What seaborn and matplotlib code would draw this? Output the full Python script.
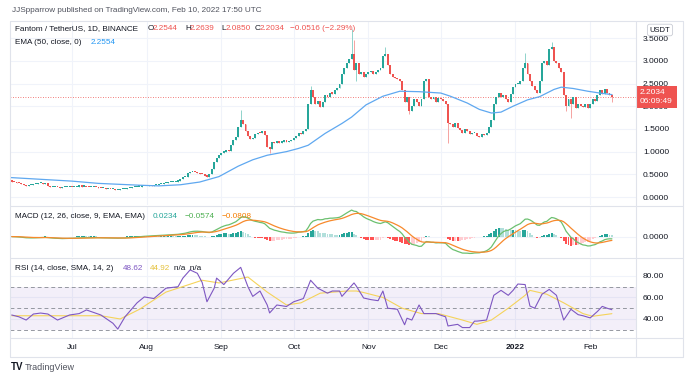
import numpy as np
import pandas as pd
import matplotlib
matplotlib.use("Agg")
import matplotlib.pyplot as plt
import matplotlib.transforms as mtrans
from matplotlib.lines import Line2D
import seaborn as sns

sns.set_theme(style="white")
plt.rcParams["font.family"] = ["Liberation Sans", "DejaVu Sans"]

# ── DATA ─────────────────────────────────────────────────────────────────────
first_day = "2021-06-06"
first_open = 0.35
close_jun = [0.34, 0.33, 0.31, 0.30, 0.28, 0.26, 0.25, 0.27, 0.27, 0.28,
             0.29, 0.30, 0.30, 0.29, 0.30, 0.24, 0.21, 0.22, 0.23, 0.21,
             0.20, 0.21, 0.22, 0.22, 0.23]
close_jul = [0.22, 0.22, 0.23, 0.24, 0.23, 0.23, 0.22, 0.21, 0.22, 0.22,
             0.21, 0.20, 0.19, 0.19, 0.18, 0.18, 0.17, 0.17, 0.16, 0.16,
             0.17, 0.17, 0.18, 0.19, 0.20, 0.21, 0.22, 0.23, 0.23, 0.24,
             0.25]
close_aug = [0.25, 0.26, 0.25, 0.27, 0.27, 0.28, 0.29, 0.30, 0.30, 0.32,
             0.33, 0.33, 0.34, 0.36, 0.40, 0.43, 0.45, 0.52, 0.55, 0.56,
             0.54, 0.53, 0.51, 0.50, 0.47, 0.45, 0.50, 0.62, 0.78, 0.86,
             0.92]
close_sep = [0.98, 1.00, 1.03, 1.02, 1.15, 1.25, 1.32, 1.55, 1.70, 1.60,
             1.45, 1.35, 1.28, 1.30, 1.38, 1.42, 1.40, 1.45, 1.36, 1.10,
             1.05, 1.22, 1.18, 1.24, 1.20, 1.22, 1.25, 1.21, 1.24, 1.26]
close_oct = [1.30, 1.35, 1.42, 1.38, 1.45, 1.50, 2.05, 2.35, 2.20, 2.05,
             2.12, 1.98, 2.10, 2.25, 2.20, 2.30, 2.28, 2.35, 2.40, 2.50,
             2.70, 2.85, 2.95, 3.05, 3.15, 2.80, 2.95, 2.70, 2.75, 2.65,
             2.72]
close_nov = [2.75, 2.78, 2.72, 2.76, 2.80, 2.85, 3.10, 3.15, 2.90, 2.72,
             2.65, 2.62, 2.60, 2.55, 2.35, 2.10, 2.20, 1.90, 2.00, 2.15,
             2.10, 2.00, 2.15, 2.55, 2.60, 2.20, 2.15, 2.20, 2.10, 2.18]
close_dec = [2.15, 2.12, 2.05, 1.62, 1.60, 1.55, 1.62, 1.52, 1.48, 1.42,
             1.50, 1.45, 1.38, 1.40, 1.42, 1.35, 1.32, 1.38, 1.36, 1.42,
             1.55, 1.70, 2.05, 2.20, 2.30, 2.20, 2.25, 2.15, 2.10, 2.28,
             2.42]
close_jan = [2.48, 2.50, 2.55, 2.85, 2.95, 2.70, 2.55, 2.45, 2.35, 2.30,
             2.55, 2.95, 3.00, 2.90, 3.25, 3.30, 3.00, 2.95, 2.85, 2.75,
             2.25, 2.00, 2.15, 2.05, 2.20, 1.95, 2.05, 2.00, 1.98, 2.05,
             1.95]
close_feb = [2.05, 2.15, 2.12, 2.25, 2.35, 2.28, 2.38, 2.30, 2.255, 2.2034]

# long wicks that stand out
wick_high = {"2021-09-09": 1.92, "2021-10-08": 2.45, "2021-10-25": 3.70,
             "2021-10-26": 3.45, "2021-11-08": 3.30, "2022-01-05": 3.17,
             "2022-01-16": 3.42, "2022-02-10": 2.2639}
wick_low = {"2021-09-21": 0.97, "2021-10-27": 2.55, "2021-11-18": 1.82,
            "2021-12-04": 1.19, "2022-01-22": 1.90, "2022-01-24": 1.75,
            "2022-02-10": 2.085}

ema_dates = ["2021-06-05", "2021-06-18", "2021-07-01", "2021-07-12", "2021-07-29",
             "2021-08-06", "2021-08-15", "2021-08-23", "2021-08-31", "2021-09-08",
             "2021-09-14", "2021-09-20", "2021-09-28", "2021-10-03", "2021-10-07",
             "2021-10-14", "2021-10-21", "2021-10-25", "2021-10-31", "2021-11-07",
             "2021-11-14", "2021-11-22", "2021-12-01", "2021-12-05", "2021-12-12",
             "2021-12-17", "2021-12-22", "2021-12-26", "2021-12-31", "2022-01-06",
             "2022-01-11", "2022-01-17", "2022-01-20", "2022-01-25", "2022-01-31",
             "2022-02-05", "2022-02-10"]
ema_vals = [0.43, 0.39, 0.35, 0.30, 0.26,
            0.245, 0.27, 0.33, 0.45, 0.68,
            0.82, 0.92, 1.00, 1.07, 1.14,
            1.40, 1.62, 1.76, 2.03, 2.22,
            2.33, 2.32, 2.29, 2.22, 2.07,
            1.93, 1.85, 1.87, 2.00, 2.14,
            2.21, 2.37, 2.42, 2.39, 2.33,
            2.29, 2.2554]

rsi_dates = ["2021-06-06", "2021-06-09", "2021-06-12", "2021-06-15", "2021-06-18",
             "2021-06-21", "2021-06-25", "2021-06-30", "2021-07-04", "2021-07-07",
             "2021-07-13", "2021-07-18", "2021-07-20", "2021-07-23", "2021-07-28",
             "2021-07-31", "2021-08-04", "2021-08-09", "2021-08-14", "2021-08-16",
             "2021-08-19", "2021-08-22", "2021-08-24", "2021-08-26", "2021-08-29",
             "2021-08-30", "2021-09-02", "2021-09-06", "2021-09-09", "2021-09-12",
             "2021-09-14", "2021-09-17", "2021-09-20", "2021-09-21", "2021-09-24",
             "2021-09-28", "2021-10-01", "2021-10-05", "2021-10-08", "2021-10-11",
             "2021-10-15", "2021-10-17", "2021-10-20", "2021-10-21", "2021-10-26",
             "2021-10-27", "2021-10-30", "2021-11-02", "2021-11-05", "2021-11-07",
             "2021-11-09", "2021-11-13", "2021-11-16", "2021-11-17", "2021-11-19",
             "2021-11-22", "2021-11-24", "2021-11-29", "2021-12-03", "2021-12-04",
             "2021-12-08", "2021-12-10", "2021-12-13", "2021-12-15", "2021-12-16",
             "2021-12-20", "2021-12-23", "2021-12-26", "2021-12-29", "2021-12-31",
             "2022-01-02", "2022-01-05", "2022-01-07", "2022-01-09", "2022-01-12",
             "2022-01-15", "2022-01-18", "2022-01-21", "2022-01-24", "2022-01-27",
             "2022-01-29", "2022-02-01", "2022-02-04", "2022-02-06", "2022-02-08",
             "2022-02-10"]
rsi_vals = [43.7, 42.0, 39.0, 44.6, 45.5,
            44.6, 39.0, 43.7, 45.0, 48.4,
            43.7, 36.0, 30.6, 42.0, 55.0,
            60.5, 59.0, 68.6, 70.0, 78.0,
            85.6, 82.5, 74.0, 56.0, 68.6,
            78.0, 72.0, 82.5, 88.0, 70.0,
            61.0, 66.0, 53.0, 45.6, 53.0,
            51.6, 56.0, 59.0, 76.0, 68.6,
            64.0, 66.0, 66.0, 61.0, 73.5,
            70.5, 59.5, 58.0, 57.0, 66.0,
            50.0, 49.0, 34.6, 40.7, 39.0,
            53.0, 45.0, 45.0, 42.0, 33.5,
            35.0, 32.0, 32.0, 38.0, 38.0,
            39.0, 62.0, 66.6, 62.0, 66.6,
            72.5, 72.0, 52.0, 50.0, 63.0,
            67.5, 62.0, 39.0, 49.0, 44.0,
            43.0, 41.0, 47.0, 51.7, 50.0,
            48.62]

rsi_ma_dates = ["2021-06-06", "2021-07-13", "2021-07-21", "2021-07-29", "2021-08-09",
                "2021-08-24", "2021-08-31", "2021-09-12", "2021-09-20", "2021-09-28",
                "2021-10-04", "2021-10-12", "2021-10-23", "2021-10-27", "2021-10-30",
                "2021-11-07", "2021-11-15", "2021-11-23", "2021-11-30", "2021-12-10",
                "2021-12-16", "2021-12-22", "2021-12-29", "2022-01-05", "2022-01-07",
                "2022-01-14", "2022-01-21", "2022-01-29", "2022-02-02", "2022-02-10"]
rsi_ma_vals = [43.0, 43.0, 40.0, 49.0, 65.0,
               76.0, 73.5, 79.0, 65.0, 53.0,
               55.0, 64.0, 66.0, 66.0, 64.6,
               60.0, 50.0, 45.0, 45.0, 39.0,
               35.0, 39.0, 50.0, 62.0, 66.6,
               63.0, 55.0, 45.0, 42.5, 44.92]

price_ticks = [0.0, 0.5, 1.0, 1.5, 2.0, 2.5, 3.0, 3.5]
rsi_ticks = [40, 60, 80]
month_starts = ["2021-07-01", "2021-08-01", "2021-09-01", "2021-10-01",
                "2021-11-01", "2021-12-01", "2022-01-01", "2022-02-01"]
month_labels = ["Jul", "Aug", "Sep", "Oct", "Nov", "Dec", "2022", "Feb"]

# ── SERIES ───────────────────────────────────────────────────────────────────
closes = np.array(close_jun + close_jul + close_aug + close_sep + close_oct
                  + close_nov + close_dec + close_jan + close_feb)
dates = pd.date_range(first_day, periods=len(closes), freq="D")
opens = np.r_[first_open, closes[:-1]]
highs = np.maximum(opens, closes)
lows = np.minimum(opens, closes)
for d, v in wick_high.items():
    highs[dates.get_loc(pd.Timestamp(d))] = v
for d, v in wick_low.items():
    lows[dates.get_loc(pd.Timestamp(d))] = v
up = closes >= opens

# MACD (12, 26, 9) from the closes
s = pd.Series(closes, index=dates)
macd = s.ewm(span=12, adjust=False).mean() - s.ewm(span=26, adjust=False).mean()
signal = macd.ewm(span=9, adjust=False).mean()
hist = macd - signal

# ── FIGURE ───────────────────────────────────────────────────────────────────
W, H = 694, 381
fig = plt.figure(figsize=(W / 100, H / 100), dpi=100)
L, R = 10, 636


def pane(top, bottom):
    ax = fig.add_axes([L / W, 1 - bottom / H, (R - L) / W, (bottom - top) / H])
    for sp in ax.spines.values():
        sp.set_visible(False)
    ax.yaxis.tick_right()
    ax.tick_params(axis="y", length=0, pad=5, labelsize=6, labelcolor="#131722")
    ax.tick_params(axis="x", length=0, labelbottom=False)
    ax.set_xticks(pd.to_datetime(month_starts))
    ax.grid(True, color="#f0f3fa", lw=0.8)
    ax.set_xlim(pd.Timestamp("2021-06-05 07:00"), pd.Timestamp("2022-02-20"))
    return ax


ax_p = pane(21, 205)
ax_m = pane(206, 257)
ax_r = pane(258, 338)

# price pane
GREEN, RED = "#26a69a", "#ef5350"
ax_p.vlines(dates, lows, highs, colors=np.where(up, "#8fd3cb", "#f5a3a1"), lw=0.7, zorder=2)
ax_p.bar(dates, np.maximum(np.abs(closes - opens), 0.025), bottom=np.minimum(opens, closes),
         width=0.8, color=np.where(up, GREEN, RED), linewidth=0, zorder=3)
sns.lineplot(x=pd.to_datetime(ema_dates), y=ema_vals, ax=ax_p, color="#5fa8f0", lw=0.9, zorder=4)
ax_p.axhline(closes[-1], color=RED, lw=0.6, ls=(0, (1, 2)), zorder=1)
ax_p.set_ylim(-0.176, 3.877)
ax_p.set_yticks(price_ticks)
ax_p.set_yticklabels([f"{v:.4f}" for v in price_ticks])
ax_p.set_xlabel(""); ax_p.set_ylabel("")
blend = mtrans.blended_transform_factory(ax_p.transAxes, ax_p.transData)
ax_p.text(1 + 4 / (R - L), closes[-1], f"{closes[-1]:.4f}\n06:09:49", transform=blend,
          ha="left", va="center", color="white", fontsize=6, linespacing=1.25, clip_on=False,
          bbox=dict(boxstyle="square,pad=0.45", fc=RED, ec="none"), zorder=10)

# MACD pane
hprev = hist.shift(1)
hcol = np.where(hist >= 0, np.where(hprev < hist, "#26a69a", "#b2dfdb"),
                np.where(hprev < hist, "#ffcdd2", "#ff5252"))
ax_m.bar(dates, hist.values, width=0.8, color=hcol, linewidth=0, zorder=2)
sns.lineplot(x=dates, y=macd.values, ax=ax_m, color="#6cc070", lw=0.9, zorder=3)
sns.lineplot(x=dates, y=signal.values, ax=ax_m, color="#f7892b", lw=0.9, zorder=3)
ax_m.set_ylim(-0.30, 0.45)
ax_m.set_yticks([0.0])
ax_m.set_yticklabels(["0.0000"])
ax_m.set_xlabel(""); ax_m.set_ylabel("")

# RSI pane
ax_r.axhspan(30, 70, color="#7e57c2", alpha=0.09, lw=0, zorder=1)
for lvl in (70, 50, 30):
    ax_r.axhline(lvl, color="#9598a1", lw=0.7, dashes=(4, 3), zorder=2)
sns.lineplot(x=pd.to_datetime(rsi_ma_dates), y=rsi_ma_vals, ax=ax_r, color="#f5d35a", lw=0.8, zorder=3)
sns.lineplot(x=pd.to_datetime(rsi_dates), y=rsi_vals, ax=ax_r, color="#7e57c2", lw=0.8, zorder=4)
ax_r.set_ylim(22.3, 96.7)
ax_r.set_yticks(rsi_ticks)
ax_r.set_yticklabels([f"{v:.2f}" for v in rsi_ticks])
ax_r.tick_params(axis="x", labelbottom=True, labelsize=6, pad=4, labelcolor="#131722")
ax_r.set_xticklabels(month_labels)
for t in ax_r.get_xticklabels():
    if t.get_text() == "2022":
        t.set_fontweight("bold")
ax_r.set_xlabel(""); ax_r.set_ylabel("")

# frame lines
def hline(y, x0=L, x1=683):
    fig.add_artist(Line2D([x0 / W, x1 / W], [1 - y / H] * 2, color="#e0e3eb", lw=0.8))


def vline(x, y0=21, y1=357):
    fig.add_artist(Line2D([x / W] * 2, [1 - y0 / H, 1 - y1 / H], color="#e0e3eb", lw=0.8))


for y in (21, 205.5, 257.5, 338, 357):
    hline(y)
for x in (L, R, 683):
    vline(x)

# texts
def ftext(x, y, s, **kw):
    kw.setdefault("fontsize", 5.9)
    kw.setdefault("color", "#131722")
    fig.text(x / W, 1 - y / H, s, va="center", ha="left", **kw)


ftext(12, 10, "JJSpparrow published on TradingView.com, Feb 10, 2022 17:50 UTC", color="#50535e")
ftext(15, 29, "Fantom / TetherUS, 1D, BINANCE")
for x, lab, val in [(148, "O", "2.2544"), (185, "H", "2.2639"), (221, "L", "2.0850"), (255, "C", "2.2034")]:
    ftext(x, 29, lab)
    ftext(x + 5, 29, val, color=RED)
ftext(290, 29, "\u22120.0516 (\u22122.29%)", color=RED)
ftext(15, 43, "EMA (50, close, 0)")
ftext(91, 43, "2.2554", color="#2196f3")
ftext(15, 217, "MACD (12, 26, close, 9, EMA, EMA)")
ftext(153, 217, "0.0234", color="#26a69a")
ftext(185, 217, "\u22120.0574", color="#4caf50")
ftext(222, 217, "\u22120.0808", color="#f57c00")
ftext(15, 268, "RSI (14, close, SMA, 14, 2)")
ftext(123, 268, "48.62", color="#7e57c2")
ftext(150, 268, "44.92", color="#e5c13b")
ftext(174, 268, "n/a  n/a")
fig.text(660 / W, 1 - 30 / H, "USDT", ha="center", va="center", fontsize=5.5, color="#131722",
         bbox=dict(boxstyle="round,pad=0.3", fc="white", ec="#c9ccd4", lw=0.6), zorder=20)
ftext(11, 367, "TV", fontsize=7, fontweight="bold", color="#131722")
ftext(25, 367, "TradingView", fontsize=6.5, color="#50535e")

fig.savefig("out.png", dpi=100)
